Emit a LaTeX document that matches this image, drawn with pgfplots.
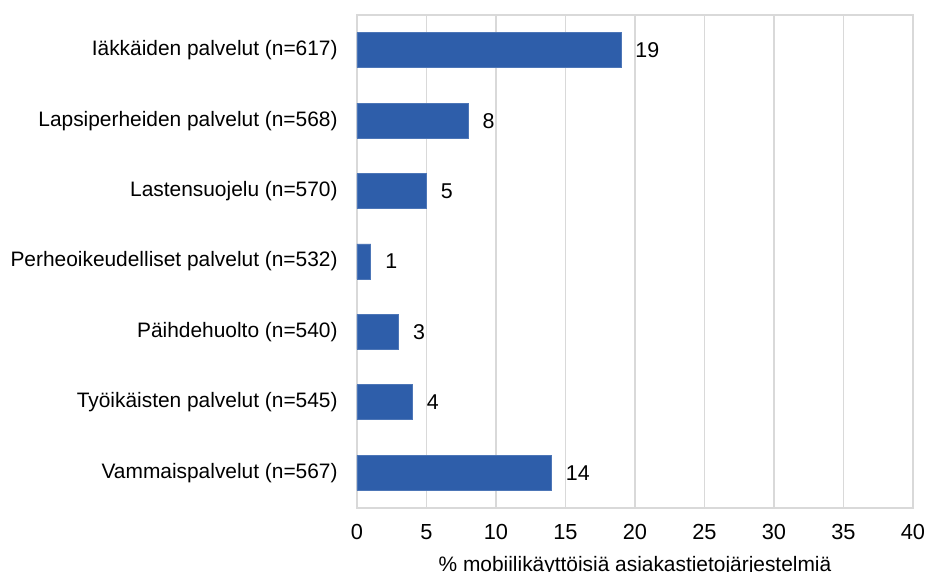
\documentclass[border=0pt]{standalone}
\usepackage{pgfplots}
\pgfplotsset{compat=1.18}
\usepackage{fontspec}
\setmainfont{Liberation Sans}
\definecolor{barblue}{RGB}{46,94,170}
\definecolor{gridgray}{RGB}{217,217,217}
\begin{document}
\fontsize{10.9}{13}\selectfont
\begin{tikzpicture}
\begin{axis}[
  at={(0,0)}, anchor=south west,
  scale only axis,
  width=278pt, height=246.5pt,
  xmin=0, xmax=40,
  ymin=-0.5, ymax=6.5,
  y dir=reverse,
  xtick={0,5,...,40},
  ytick={0,...,6},
  yticklabels={Iäkkäiden palvelut (n=617),Lapsiperheiden palvelut (n=568),Lastensuojelu (n=570),Perheoikeudelliset palvelut (n=532),Päihdehuolto (n=540),Työikäisten palvelut (n=545),Vammaispalvelut (n=567)},
  major tick length=0pt,
  xmajorgrids,
  grid style={gridgray, line width=0.6pt},
  axis line style={gridgray, line width=0.6pt},
  /pgf/number format/assume math mode=true,
  xticklabel style={anchor=base, yshift=-16pt, font=\fontsize{10.9}{13}\selectfont},
  yticklabel style={anchor=east, inner sep=0pt, xshift=-9.5pt, font=\fontsize{10.45}{13}\selectfont},
  xlabel={\% mobiilikäyttöisiä asiakastietojärjestelmiä},
  xlabel style={at={(axis description cs:0.5,0)}, anchor=base, yshift=-31.5pt, font=\fontsize{10.45}{13}\selectfont},
  xbar, bar width=17.5pt,
  nodes near coords,
  every node near coord/.append style={anchor=west, inner sep=0pt, xshift=7pt, font=\fontsize{10.7}{13}\selectfont, black},
  clip=false,
]
\addplot[fill=barblue, draw=barblue!85!white, line width=0.4pt] coordinates {
  (19,0) (8,1) (5,2) (1,3) (3,4) (4,5) (14,6)
};
\end{axis}
\pgfresetboundingbox
\path (-178.5pt,-32pt) rectangle (285.5pt,254pt);
\end{tikzpicture}
\end{document}
